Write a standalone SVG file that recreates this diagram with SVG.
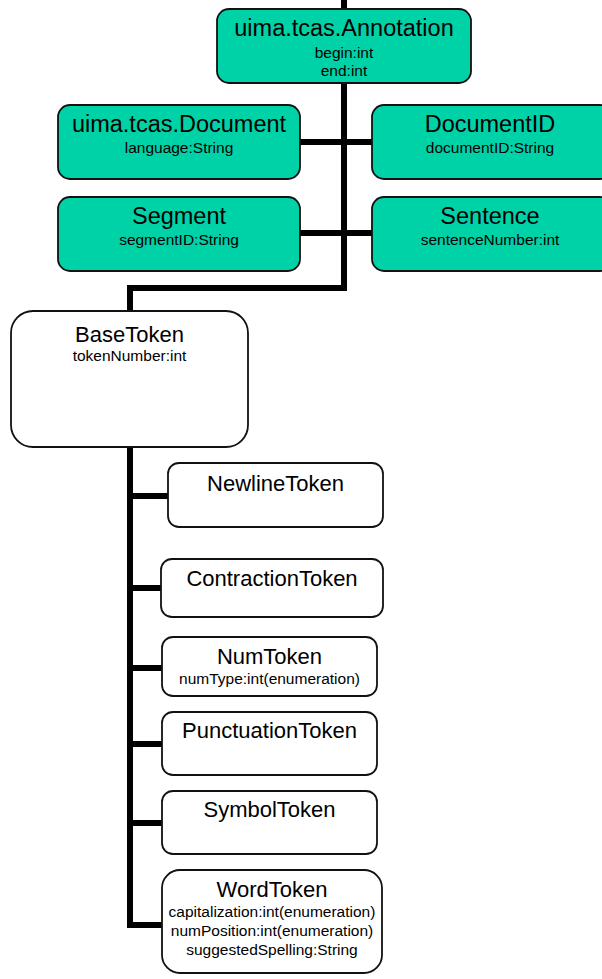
<svg xmlns="http://www.w3.org/2000/svg" width="602" height="979" viewBox="0 0 602 979">
  <style>
    .type { fill: #00d2a8; stroke: #111; stroke-width: 1.8; }
    .tok { fill: #ffffff; stroke: #111; stroke-width: 1.8; }
    .title { font-family: "Liberation Sans", Arial, sans-serif; font-size: 23.5px; fill: #000; text-anchor: middle; }
    .ttl { font-family: "Liberation Sans", Arial, sans-serif; font-size: 22px; fill: #000; text-anchor: middle; }
    .attr { font-family: "Liberation Sans", Arial, sans-serif; font-size: 15.5px; fill: #000; text-anchor: middle; }
    .wire { fill: none; stroke: #000; stroke-width: 6; stroke-linejoin: miter; stroke-linecap: butt; }
  </style>

  <!-- inheritance connectors -->
  <g id="connectors">
    <path class="wire" d="M344,0 V10"/>
    <path class="wire" d="M344,82 V288 H130 V312"/>
    <path class="wire" d="M300,142 H373"/>
    <path class="wire" d="M300,233 H373"/>
    <path class="wire" d="M130,446 V928"/>
    <path class="wire" d="M130,496 H169"/>
    <path class="wire" d="M130,588 H162"/>
    <path class="wire" d="M130,668 H163"/>
    <path class="wire" d="M130,744 H163"/>
    <path class="wire" d="M130,823 H163"/>
    <path class="wire" d="M127,925 H163"/>
  </g>

  <g id="annotation">
    <rect class="type" x="217" y="9" width="254" height="74" rx="12"/>
    <text class="title" x="344" y="36">uima.tcas.Annotation</text>
    <text class="attr" x="344" y="58">begin:int</text>
    <text class="attr" x="344" y="76">end:int</text>
  </g>

  <g id="document">
    <rect class="type" x="58" y="105" width="242" height="74" rx="12"/>
    <text class="title" x="179" y="132">uima.tcas.Document</text>
    <text class="attr" x="179" y="153">language:String</text>
  </g>

  <g id="documentID">
    <rect class="type" x="372" y="105" width="240" height="74" rx="12"/>
    <text class="title" x="490" y="132">DocumentID</text>
    <text class="attr" x="490" y="153">documentID:String</text>
  </g>

  <g id="segment">
    <rect class="type" x="58" y="197" width="242" height="74" rx="12"/>
    <text class="title" x="179" y="224">Segment</text>
    <text class="attr" x="179" y="245">segmentID:String</text>
  </g>

  <g id="sentence">
    <rect class="type" x="372" y="197" width="240" height="74" rx="12"/>
    <text class="title" x="490" y="224">Sentence</text>
    <text class="attr" x="490" y="245">sentenceNumber:int</text>
  </g>

  <g id="baseToken">
    <rect class="tok" x="11" y="311" width="237" height="136" rx="22"/>
    <text class="ttl" x="129.5" y="342" font-size="23">BaseToken</text>
    <text class="attr" x="129.5" y="361">tokenNumber:int</text>
  </g>

  <g id="newlineToken">
    <rect class="tok" x="168" y="463" width="215" height="64" rx="11"/>
    <text class="ttl" x="275.5" y="491">NewlineToken</text>
  </g>

  <g id="contractionToken">
    <rect class="tok" x="161" y="559" width="222" height="58" rx="11"/>
    <text class="ttl" x="272" y="586">ContractionToken</text>
  </g>

  <g id="numToken">
    <rect class="tok" x="162" y="637" width="215" height="59" rx="11"/>
    <text class="ttl" x="269.5" y="664">NumToken</text>
    <text class="attr" x="269.5" y="684">numType:int(enumeration)</text>
  </g>

  <g id="punctuationToken">
    <rect class="tok" x="162" y="712" width="215" height="63" rx="11"/>
    <text class="ttl" x="269.5" y="738">PunctuationToken</text>
  </g>

  <g id="symbolToken">
    <rect class="tok" x="162" y="791" width="215" height="63" rx="11"/>
    <text class="ttl" x="269.5" y="817">SymbolToken</text>
  </g>

  <g id="wordToken">
    <rect class="tok" x="162" y="870" width="220" height="103" rx="18"/>
    <text class="ttl" x="272" y="897" font-size="23">WordToken</text>
    <text class="attr" x="272" y="917">capitalization:int(enumeration)</text>
    <text class="attr" x="272" y="936">numPosition:int(enumeration)</text>
    <text class="attr" x="272" y="955">suggestedSpelling:String</text>
  </g>
</svg>
